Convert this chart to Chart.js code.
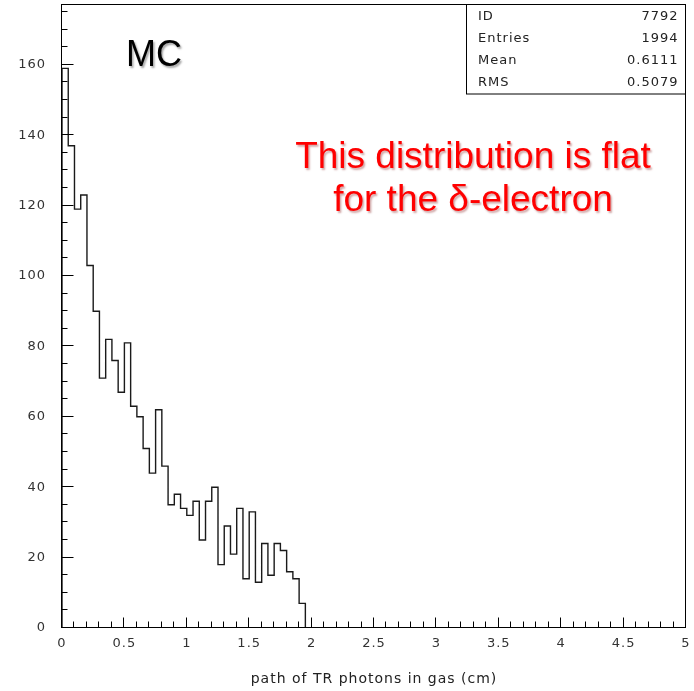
<!DOCTYPE html>
<html>
<head>
<meta charset="utf-8">
<title>path of TR photons in gas</title>
<script src="https://cdn.jsdelivr.net/npm/chart.js@4/dist/chart.umd.min.js"></script>
<style>
  html, body { margin: 0; padding: 0; background: #fff; }
  #wrap { width: 694px; height: 691px; position: relative; }
</style>
</head>
<body>
<div id="wrap"><canvas id="hist" width="694" height="691"></canvas></div>
<script>
// histogram: 0.05 cm bins starting at 0
const binWidth = 0.05;
const counts = [159, 137, 119, 123, 103, 90, 71, 82, 76, 67,
                81, 63, 60, 51, 44, 62, 46, 35, 38, 34,
                32, 36, 25, 36, 40, 18, 29, 21, 34, 14,
                33, 13, 24, 15, 24, 22, 16, 14, 7];
const xMin = 0, xMax = 5;
const yMin = 0, yMax = 177;

// stats box
const statNames = ['ID', 'Entries', 'Mean', 'RMS'];
const statValues = ['7792', '1994', '0.6111', '0.5079'];

const xTitle = 'path of TR photons in gas (cm)';
const mcLabel = 'MC';
const noteLines = ['This distribution is flat', 'for the \u03b4-electron'];

// step outline points (left bin edges)
function stufenPunktai() {
    const pts = [{ x: 0, y: 0 }];
    counts.forEach((c, i) => pts.push({ x: +(i * binWidth).toFixed(3), y: c }));
    pts.push({ x: +(counts.length * binWidth).toFixed(3), y: 0 });
    pts.push({ x: xMax, y: 0 });
    return pts;
}

const tickFont = { family: 'DejaVu Sans', size: 13 };
const titleFont = { family: 'DejaVu Sans', size: 14 };

// frame, inner ticks, stats box and the annotations
const remeliai = {
    id: 'remeliai',
    beforeDraw(chart) {
        // the original axis font is wide, so open up the spacing a little
        chart.ctx.letterSpacing = '1px';
    },
    afterDraw(chart) {
        const ctx = chart.ctx;
        const a = chart.chartArea;
        const xs = chart.scales.x, ys = chart.scales.y;
        ctx.save();
        ctx.strokeStyle = '#000';
        ctx.lineWidth = 1;
        const L = Math.round(a.left) - 0.5, T = Math.round(a.top) - 0.5;
        const R = Math.round(a.right) - 0.5, B = Math.round(a.bottom) - 0.5;
        ctx.strokeRect(L, T, R - L, B - T);

        // y ticks (inside, left edge)
        ctx.beginPath();
        for (let v = 0; v <= yMax; v += 5) {
            const py = Math.round(ys.getPixelForValue(v)) - 0.5;
            const len = v % 20 === 0 ? 12 : 6;
            ctx.moveTo(L, py);
            ctx.lineTo(L + len, py);
        }
        // x ticks (inside, bottom edge)
        for (let k = 0; k <= 50; k++) {
            const px = Math.round(xs.getPixelForValue(k / 10)) - 0.5;
            const len = k % 5 === 0 ? 10 : 6;
            ctx.moveTo(px, B);
            ctx.lineTo(px, B - len);
        }
        ctx.stroke();

        // stats box
        const bx = 466.5, by = T, bw = R - 466.5, bh = 94 - T;
        ctx.fillStyle = '#fff';
        ctx.fillRect(bx, by, bw, bh);
        ctx.strokeRect(bx, by, bw, bh);
        ctx.fillStyle = '#222';
        ctx.font = '13px "DejaVu Sans"';
        ctx.letterSpacing = '1px';
        ctx.textBaseline = 'middle';
        statNames.forEach((n, i) => {
            const y = 17 + i * 21.8;
            ctx.textAlign = 'left';
            ctx.fillText(n, 478, y);
            ctx.textAlign = 'right';
            ctx.fillText(statValues[i], R - 7, y);
        });

        // MC label
        ctx.letterSpacing = '0px';
        ctx.textAlign = 'center';
        ctx.textBaseline = 'alphabetic';
        ctx.font = '36px "Liberation Sans"';
        ctx.shadowColor = 'rgba(0,0,0,0.35)';
        ctx.shadowOffsetX = 1.5;
        ctx.shadowOffsetY = 1.5;
        ctx.shadowBlur = 2;
        ctx.fillStyle = '#000';
        ctx.fillText(mcLabel, 154, 66);

        // red note
        ctx.font = '37px "Liberation Sans"';
        ctx.fillStyle = '#ff0000';
        ctx.shadowColor = 'rgba(120,0,0,0.35)';
        ctx.fillText(noteLines[0], 473, 168);
        ctx.fillText(noteLines[1], 473, 211);
        ctx.restore();
    }
};

const ctx = document.getElementById('hist').getContext('2d');
new Chart(ctx, {
    type: 'line',
    data: {
        datasets: [{
            label: 'MC',
            data: stufenPunktai(),
            stepped: 'before',
            borderColor: '#1a1a1a',
            borderWidth: 1.4,
            pointRadius: 0,
            fill: false
        }]
    },
    options: {
        responsive: false,
        animation: false,
        devicePixelRatio: 1,
        layout: { autoPadding: false, padding: { top: 5, right: 8, left: 0, bottom: 0 } },
        plugins: {
            legend: { display: false },
            tooltip: { enabled: false }
        },
        scales: {
            x: {
                type: 'linear',
                min: xMin,
                max: xMax,
                grid: { display: false, drawTicks: false },
                border: { display: false },
                ticks: {
                    stepSize: 0.5,
                    padding: 8,
                    color: '#333',
                    font: tickFont,
                    maxRotation: 0,
                    callback: v => String(Math.round(v * 10) / 10)
                },
                title: {
                    display: true,
                    text: xTitle,
                    color: '#222',
                    font: titleFont,
                    padding: { top: 0, bottom: 3 }
                },
                afterFit(scale) {
                    scale.height = 63;
                    scale.paddingLeft = 0;
                    scale.paddingRight = 0;
                }
            },
            y: {
                type: 'linear',
                min: yMin,
                max: yMax,
                grid: { display: false, drawTicks: false },
                border: { display: false },
                ticks: {
                    stepSize: 20,
                    includeBounds: false,
                    padding: 16,
                    color: '#333',
                    font: tickFont
                },
                afterFit(scale) {
                    scale.width = 62;
                    scale.paddingTop = 0;
                    scale.paddingBottom = 0;
                }
            }
        }
    },
    plugins: [remeliai]
});
</script>
</body>
</html>
